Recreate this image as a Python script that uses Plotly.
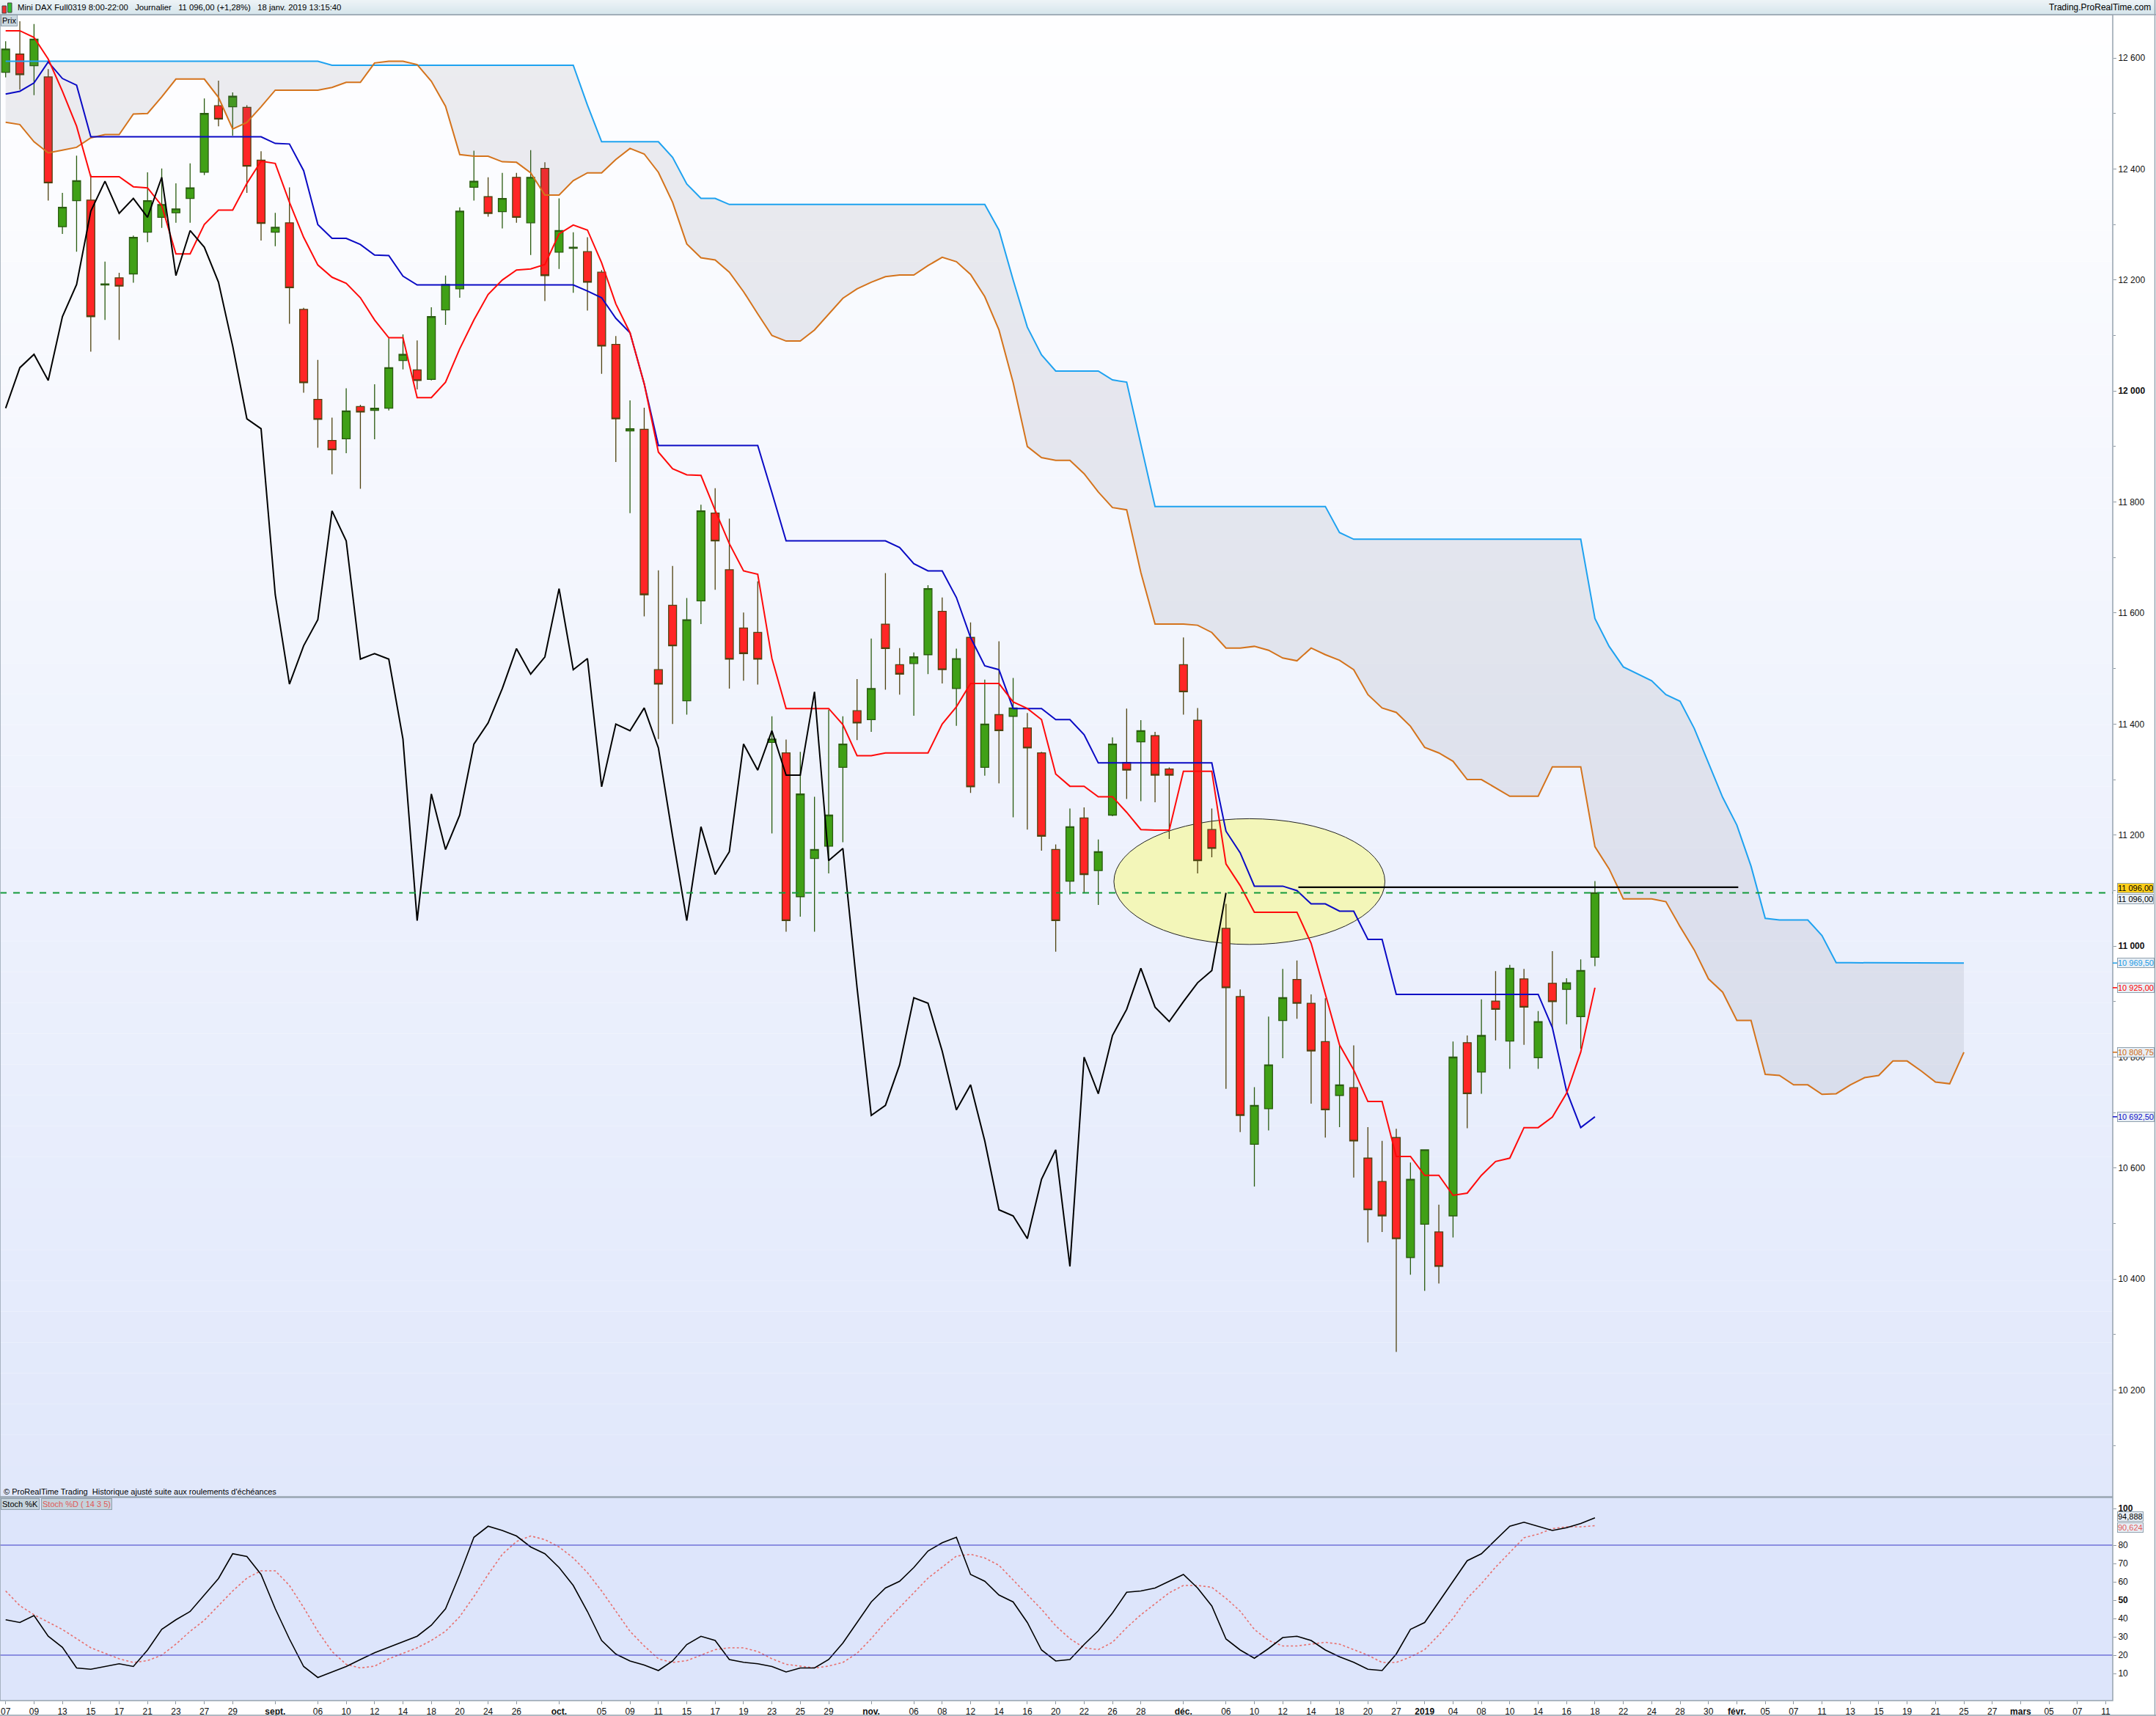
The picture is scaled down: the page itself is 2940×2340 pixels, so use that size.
import plotly.graph_objects as go

# ---------------- DATA ----------------
OPEN = [12574, 12607, 12586, 12566, 12296, 12343, 12344, 12191, 12204, 12211,
        12286, 12313, 12321, 12347, 12394, 12514, 12512, 12511, 12416, 12286,
        12303, 12147, 11985, 11911, 11914, 11972, 11965, 11969, 12055, 12038,
        12021, 12146, 12184, 12367, 12350, 12323, 12385, 12303, 12401, 12250,
        12257, 12251, 12214, 12084, 11928, 11931, 11498, 11614, 11442, 11622,
        11780, 11678, 11573, 11565, 11367, 11348, 11089, 11158, 11180, 11322,
        11424, 11408, 11580, 11507, 11509, 11525, 11603, 11464, 11556, 11322,
        11417, 11414, 11393, 11348, 11174, 11117, 11231, 11136, 11236, 11331,
        11368, 11379, 11319, 11507, 11407, 11210, 11032, 10909, 10643, 10707,
        10866, 10940, 10897, 10828, 10731, 10745, 10618, 10576, 10655, 10439,
        10499, 10485, 10514, 10826, 10773, 10901, 10829, 10941, 10799, 10933,
        10922, 10873, 10980]
HIGH = [12630, 12666, 12661, 12580, 12357, 12424, 12390, 12233, 12213, 12280,
        12394, 12401, 12374, 12410, 12527, 12559, 12538, 12515, 12432, 12321,
        12367, 12150, 12056, 11952, 12005, 11975, 12012, 12095, 12102, 12091,
        12151, 12208, 12331, 12433, 12385, 12393, 12393, 12434, 12412, 12347,
        12286, 12277, 12218, 12099, 11983, 11970, 11677, 11685, 11627, 11795,
        11825, 11770, 11601, 11657, 11414, 11372, 11350, 11269, 11426, 11414,
        11481, 11554, 11672, 11537, 11529, 11650, 11628, 11536, 11583, 11480,
        11549, 11483, 11420, 11350, 11183, 11248, 11250, 11192, 11376, 11428,
        11407, 11386, 11322, 11556, 11429, 11248, 11076, 10922, 10746, 10873,
        10959, 10974, 10913, 10906, 10822, 10821, 10674, 10649, 10671, 10610,
        10634, 10534, 10828, 10839, 10904, 10955, 10966, 10959, 10883, 10991,
        10942, 10976, 11117]
LOW = [12565, 12543, 12533, 12343, 12283, 12251, 12071, 12128, 12092, 12195,
       12268, 12294, 12303, 12303, 12389, 12477, 12460, 12357, 12271, 12261,
       12121, 11997, 11898, 11850, 11888, 11824, 11913, 11965, 12039, 12003,
       12019, 12119, 12168, 12343, 12314, 12293, 12303, 12245, 12162, 12220,
       12177, 12145, 12031, 11872, 11780, 11594, 11373, 11400, 11417, 11580,
       11642, 11464, 11478, 11471, 11203, 11026, 11053, 11026, 11131, 11187,
       11371, 11386, 11462, 11453, 11415, 11490, 11473, 11397, 11276, 11307,
       11293, 11232, 11210, 11172, 10990, 11093, 11096, 11074, 11234, 11265,
       11261, 11259, 11193, 11417, 11131, 11160, 10743, 10665, 10567, 10668,
       10798, 10869, 10716, 10655, 10674, 10583, 10466, 10485, 10269, 10408,
       10379, 10392, 10475, 10672, 10734, 10830, 10779, 10822, 10779, 10853,
       10859, 10815, 10964]
CLOSE = [12616, 12570, 12634, 12375, 12331, 12379, 12134, 12193, 12189, 12277,
         12343, 12336, 12328, 12366, 12500, 12490, 12531, 12405, 12302, 12295,
         12186, 12015, 11949, 11894, 11964, 11962, 11969, 12042, 12066, 12019,
         12134, 12192, 12324, 12378, 12320, 12347, 12313, 12385, 12208, 12289,
         12259, 12196, 12081, 11950, 11932, 11633, 11472, 11541, 11588, 11784,
         11730, 11517, 11527, 11517, 11373, 11046, 11274, 11174, 11236, 11364,
         11402, 11464, 11536, 11490, 11521, 11644, 11498, 11518, 11287, 11400,
         11388, 11429, 11357, 11198, 11046, 11215, 11129, 11170, 11364, 11317,
         11388, 11308, 11308, 11458, 11154, 11176, 10925, 10695, 10713, 10786,
         10907, 10897, 10811, 10705, 10750, 10649, 10525, 10514, 10473, 10580,
         10633, 10423, 10800, 10734, 10839, 10886, 10960, 10890, 10864, 10900,
         10934, 10956, 11096]

TENKAN = [12649, 12649, 12637, 12598, 12540, 12477, 12386, 12386, 12386, 12368,
          12366, 12334, 12247, 12247, 12300, 12326, 12326, 12374, 12414, 12410,
          12340, 12277, 12227, 12205, 12194, 12168, 12128, 12096, 12096, 11988,
          11988, 12016, 12076, 12128, 12174, 12200, 12218, 12220, 12228, 12283,
          12299, 12290, 12231, 12157, 12105, 12013, 11890, 11860, 11849, 11848,
          11785, 11725, 11676, 11670, 11518, 11428, 11428, 11428, 11428, 11399,
          11343, 11343, 11348, 11348, 11348, 11348, 11400, 11431, 11473, 11473,
          11473, 11440, 11428, 11408, 11310, 11288, 11288, 11269, 11269, 11241,
          11210, 11209, 11209, 11315, 11315, 11315, 11148, 11109, 11061, 11061,
          11061, 11061, 11005, 10913, 10822, 10777, 10720, 10720, 10621, 10621,
          10587, 10587, 10551, 10555, 10587, 10612, 10618, 10673, 10673, 10692,
          10735, 10809, 10925]
KIJUN = [12535, 12540, 12555, 12593, 12563, 12551, 12458, 12458, 12458, 12458,
         12458, 12458, 12458, 12458, 12458, 12458, 12458, 12458, 12458, 12446,
         12445, 12397, 12300, 12275, 12275, 12264, 12245, 12244, 12207, 12191,
         12191, 12191, 12191, 12191, 12191, 12191, 12191, 12191, 12191, 12191,
         12191, 12180, 12168, 12131, 12105, 12013, 11902, 11902, 11902, 11902,
         11902, 11902, 11902, 11902, 11817, 11730, 11730, 11730, 11730, 11730,
         11730, 11730, 11730, 11718, 11689, 11676, 11676, 11628, 11556, 11505,
         11498, 11428, 11428, 11428, 11408, 11408, 11381, 11330, 11330, 11330,
         11330, 11330, 11330, 11330, 11330, 11330, 11207, 11168, 11108, 11108,
         11108, 11100, 11076, 11076, 11063, 11063, 11012, 11012, 10913, 10913,
         10913, 10913, 10913, 10913, 10913, 10913, 10913, 10913, 10913, 10853,
         10739, 10673, 10692.5]
SENKOU_A = [12484, 12480, 12449, 12429, 12434, 12439, 12456, 12462, 12462, 12499,
            12500, 12530, 12562, 12562, 12562, 12529, 12472, 12484, 12512, 12542,
            12542, 12542, 12542, 12547, 12556, 12556, 12591, 12594, 12594, 12588,
            12558, 12513, 12426, 12423, 12423, 12413, 12412, 12393, 12353, 12353,
            12379, 12393, 12393, 12417, 12437, 12427, 12394, 12340, 12265, 12240,
            12236, 12214, 12179, 12139, 12100, 12090, 12090, 12110, 12139, 12167,
            12184, 12196, 12206, 12209, 12209, 12226, 12241, 12233, 12210, 12170,
            12110, 12015, 11900, 11880, 11875, 11875, 11851, 11818, 11790, 11786,
            11673, 11580, 11580, 11580, 11578, 11565, 11537, 11537, 11540, 11533,
            11519, 11514, 11537, 11525, 11515, 11498, 11453, 11429, 11421, 11396,
            11358, 11348, 11333, 11300, 11300, 11285, 11270, 11270, 11270, 11323,
            11323, 11323, 11179, 11139, 11085, 11085, 11085, 11080, 11035, 10993,
            10941, 10917, 10866, 10866, 10769, 10767, 10750, 10750, 10733, 10734,
            10750, 10763, 10767, 10793, 10793, 10775, 10755, 10752, 10808.75]
SENKOU_B = [12594, 12594, 12594, 12594, 12594, 12594, 12594, 12594, 12594, 12594,
            12594, 12594, 12594, 12594, 12594, 12594, 12594, 12594, 12594, 12594,
            12594, 12594, 12594, 12587, 12587, 12587, 12587, 12587, 12587, 12587,
            12587, 12587, 12587, 12587, 12587, 12587, 12587, 12587, 12587, 12587,
            12587, 12515, 12449, 12449, 12449, 12449, 12449, 12421, 12373, 12347,
            12347, 12336, 12336, 12336, 12336, 12336, 12336, 12336, 12336, 12336,
            12336, 12336, 12336, 12336, 12336, 12336, 12336, 12336, 12336, 12336,
            12290, 12200, 12115, 12065, 12036, 12036, 12036, 12036, 12020, 12016,
            11904, 11792, 11792, 11792, 11792, 11792, 11792, 11792, 11792, 11792,
            11792, 11792, 11792, 11792, 11745, 11733, 11733, 11733, 11733, 11733,
            11733, 11733, 11733, 11733, 11733, 11733, 11733, 11733, 11733, 11733,
            11733, 11733, 11590, 11540, 11503, 11490, 11478, 11453, 11441, 11392,
            11330, 11268, 11218, 11144, 11050, 11047, 11047, 11047, 11019, 10970,
            10970, 10970, 10970, 10970, 10970, 10970, 10970, 10970, 10969.5]

STOCH_K = [39.3, 37.8, 41.6, 30.3, 24.3, 13.0, 12.3, 13.8, 15.3, 13.8,
           22.8, 34.1, 39.3, 43.8, 52.8, 61.8, 75.3, 73.8, 64.0, 45.3,
           28.8, 13.8, 7.8, 10.8, 13.8, 17.6, 21.3, 24.3, 27.3, 30.3,
           36.3, 45.3, 64.0, 84.3, 90.3, 88.0, 85.0, 79.0, 75.3, 67.8,
           58.0, 43.8, 28.0, 20.6, 16.8, 14.6, 11.6, 16.8, 25.8, 30.3,
           28.0, 17.6, 16.1, 15.3, 13.8, 10.8, 13.0, 13.0, 17.6, 26.6,
           37.8, 49.0, 56.6, 60.3, 67.8, 76.8, 81.3, 84.3, 64.0, 60.3,
           52.8, 49.0, 37.8, 22.8, 16.8, 17.6, 25.8, 33.3, 43.0, 54.3,
           55.0, 56.6, 60.3, 64.0, 56.6, 46.8, 28.8, 22.8, 18.3, 23.6,
           29.6, 30.3, 28.0, 22.8, 19.1, 16.1, 12.3, 11.6, 20.6, 34.1,
           37.8, 49.0, 60.3, 71.5, 75.3, 82.8, 90.3, 92.5, 90.3, 88.0,
           89.5, 91.8, 94.888]
STOCH_D = [55, 47, 42, 38, 34, 29, 24, 21, 18, 16,
           17, 20, 26, 33, 39, 47, 55, 62, 66, 66,
           58, 46, 33, 22, 15, 13, 14, 18, 21, 24,
           28, 33, 41, 52, 64, 75, 82, 85, 83, 79,
           73, 65, 55, 44, 33, 25, 18, 16, 17, 20,
           23, 24, 24, 22, 18, 15, 14, 13, 14, 16,
           21, 29, 38, 46, 54, 62, 68, 74, 75, 73,
           69, 61, 53, 45, 36, 29, 24, 23, 27, 35,
           42, 48, 54, 58, 58, 57, 51, 44, 34, 28,
           25, 25, 26, 27, 26, 23, 20, 16, 16, 19,
           23, 31, 40, 51, 59, 68, 76, 84, 86, 89,
           90, 90, 90.624]

TICK_POS = [0, 2, 4, 6, 8, 10, 12, 14, 16, 19, 22, 24, 26, 28, 30, 32, 34, 36, 39,
            42, 44, 46, 48, 50, 52, 54, 56, 58, 61, 64, 66, 68, 70, 72, 74, 76, 78,
            80, 83, 86, 88, 90, 92, 94, 96, 98, 100, 102, 104, 106, 108, 110, 112,
            114, 116, 118, 120, 122, 124, 126, 128, 130, 132, 134, 136, 138, 140,
            142, 144, 146, 148]
TICK_TEXT = ["07", "09", "13", "15", "17", "21", "23", "27", "29", "<b>sept.</b>",
             "06", "10", "12", "14", "18", "20", "24", "26", "<b>oct.</b>",
             "05", "09", "11", "15", "17", "19", "23", "25", "29", "<b>nov.</b>",
             "06", "08", "12", "14", "16", "20", "22", "26", "28", "<b>déc.</b>",
             "06", "10", "12", "14", "18", "20", "27", "<b>2019</b>", "04", "08",
             "10", "14", "16", "18", "22", "24", "28", "30", "<b>févr.</b>", "05",
             "07", "11", "13", "15", "19", "21", "25", "27", "<b>mars</b>", "05",
             "07", "11"]
PRICE_TICKS = [10200, 10400, 10600, 10800, 11000, 11200, 11400, 11600, 11800,
               12000, 12200, 12400, 12600]
PRICE_LABELS = ["10 200", "10 400", "10 600", "10 800", "<b>11 000</b>", "11 200",
                "11 400", "11 600", "11 800", "<b>12 000</b>", "12 200", "12 400",
                "12 600"]
STOCH_TICKS = [10, 20, 30, 40, 50, 60, 70, 80, 100]
STOCH_LABELS = ["10", "20", "30", "40", "<b>50</b>", "60", "70", "80", "<b>100</b>"]
STOCH_LEVELS = [80, 20]

LAST_PRICE = 11096.0
DRAWN_LINE = [91.1, 122.1, 11106]          # x0, x1, price
ELLIPSE = [78.1, 97.2, 11003, 11229.5]     # x0, x1, y0, y1

# price tags on the right axis: (position, text, text colour, background)
PRICE_TAGS = [(11105, "11 096,00", "#000000", "#ffcf1a"),
              (11085, "11 096,00", "#000000", "#e9eff5"),
              (10969.5, "10 969,50", "#1a9be6", "#e9eff5"),
              (10925.0, "10 925,00", "#ff0000", "#e9eff5"),
              (10808.75, "10 808,75", "#cf6a10", "#e9eff5"),
              (10692.5, "10 692,50", "#1010c8", "#e9eff5")]
STOCH_TAGS = [(95.8, "94,888", "#000000"), (89.8, "90,624", "#e05a5a")]

# ---------------- LAYOUT GEOMETRY ----------------
W, H = 2940, 2340
ML, MR, MT, MB = 0, 59, 20, 21
PW = W - ML - MR
PH = H - MT - MB
MAIN_BOTTOM_PX = 2041
STOCH_TOP_PX = 2042


def py(p):
    """pixel y from top -> paper y"""
    return (H - MB - p) / PH


def px(p):
    return (p - ML) / PW


MAIN_DOM = [py(MAIN_BOTTOM_PX), 1.0]
STOCH_DOM = [0.0, py(STOCH_TOP_PX)]

FONT = "Liberation Sans, Arial, sans-serif"
NARROW = "Liberation Sans Narrow, Arial Narrow, Liberation Sans, sans-serif"

fig = go.Figure()

n = len(CLOSE)
xi = list(range(n))
xs = list(range(len(SENKOU_B)))

fig.add_trace(go.Scatter(x=xs, y=SENKOU_B, mode="lines",
                         line=dict(color="#1ea2f0", width=2),
                         xaxis="x", yaxis="y", hoverinfo="skip"))
fig.add_trace(go.Scatter(x=xs, y=SENKOU_A, mode="lines",
                         line=dict(color="#d4731c", width=2),
                         fill="tonexty", fillcolor="rgba(105,110,125,0.12)",
                         xaxis="x", yaxis="y", hoverinfo="skip"))
fig.add_trace(go.Candlestick(
    x=xi, open=OPEN, high=HIGH, low=LOW, close=CLOSE,
    increasing=dict(fillcolor="#40a016", line=dict(color="#2a5c10", width=1.3)),
    decreasing=dict(fillcolor="#ff2626", line=dict(color="#4f4210", width=1.3)),
    whiskerwidth=0, xaxis="x", yaxis="y", hoverinfo="skip"))
fig.add_trace(go.Scatter(x=xi, y=KIJUN, mode="lines",
                         line=dict(color="#0a0ac4", width=2),
                         xaxis="x", yaxis="y", hoverinfo="skip"))
fig.add_trace(go.Scatter(x=xi, y=TENKAN, mode="lines",
                         line=dict(color="#ff0a0a", width=2),
                         xaxis="x", yaxis="y", hoverinfo="skip"))
fig.add_trace(go.Scatter(x=list(range(n - 26)), y=CLOSE[26:], mode="lines",
                         line=dict(color="#000000", width=2),
                         xaxis="x", yaxis="y", hoverinfo="skip"))

fig.add_trace(go.Scatter(x=xi, y=STOCH_D, mode="lines",
                         line=dict(color="#e8706e", width=1.6, dash="dot"),
                         xaxis="x", yaxis="y2", hoverinfo="skip"))
fig.add_trace(go.Scatter(x=xi, y=STOCH_K, mode="lines",
                         line=dict(color="#000000", width=1.6),
                         xaxis="x", yaxis="y2", hoverinfo="skip"))

shapes = []
# main panel gradient background
NB = 48
d0, d1 = MAIN_DOM
for k in range(NB):
    t = k / (NB - 1)
    r = int(round(254 - 29 * t))
    g = int(round(254 - 22 * t))
    b = int(round(255 - 4 * t))
    y1 = d1 - (d1 - d0) * k / NB
    y0 = d1 - (d1 - d0) * (k + 1) / NB
    shapes.append(dict(type="rect", xref="paper", yref="paper", x0=0, x1=1,
                       y0=y0, y1=y1, fillcolor=f"rgb({r},{g},{b})",
                       line=dict(width=0), layer="below"))
# stoch background
shapes.append(dict(type="rect", xref="paper", yref="paper", x0=0, x1=1,
                   y0=STOCH_DOM[0], y1=STOCH_DOM[1], fillcolor="rgb(221,229,251)",
                   line=dict(width=0), layer="below"))
# ellipse
shapes.append(dict(type="circle", xref="x", yref="y", x0=ELLIPSE[0], x1=ELLIPSE[1],
                   y0=ELLIPSE[2], y1=ELLIPSE[3], fillcolor="#f3f6b9",
                   line=dict(color="#222222", width=1), layer="below"))
# drawn horizontal line
shapes.append(dict(type="line", xref="x", yref="y", x0=DRAWN_LINE[0], x1=DRAWN_LINE[1],
                   y0=DRAWN_LINE[2], y1=DRAWN_LINE[2],
                   line=dict(color="#000000", width=2.2)))
# last price dashed line
shapes.append(dict(type="line", xref="paper", yref="y", x0=0, x1=1,
                   y0=LAST_PRICE, y1=LAST_PRICE,
                   line=dict(color="#139a3a", width=2, dash="dash")))
# stochastic levels
for lv in STOCH_LEVELS:
    shapes.append(dict(type="line", xref="paper", yref="y2", x0=0, x1=1, y0=lv, y1=lv,
                       line=dict(color="#3a3ac8", width=1.2)))
# panel borders
shapes.append(dict(type="rect", xref="paper", yref="paper", x0=0, x1=1,
                   y0=MAIN_DOM[0], y1=MAIN_DOM[1], line=dict(color="#95a2ae", width=1.5)))
shapes.append(dict(type="rect", xref="paper", yref="paper", x0=0, x1=1,
                   y0=STOCH_DOM[0], y1=STOCH_DOM[1], line=dict(color="#95a2ae", width=1.5)))
# header bar
top = 1 + MT / PH
for k in range(10):
    t = k / 9
    r = int(round(236 - 22 * t))
    g = int(round(243 - 14 * t))
    b = int(round(246 - 10 * t))
    y1 = top - (top - 1) * k / 10
    y0 = top - (top - 1) * (k + 1) / 10
    shapes.append(dict(type="rect", xref="paper", yref="paper", x0=0, x1=px(W),
                       y0=y0, y1=y1, fillcolor=f"rgb({r},{g},{b})", line=dict(width=0)))
shapes.append(dict(type="line", xref="paper", yref="paper", x0=0, x1=px(W), y0=1, y1=1,
                   line=dict(color="#95a2ae", width=1.5)))
# outer frame right and bottom
shapes.append(dict(type="line", xref="paper", yref="paper", x0=px(W - 1.5), x1=px(W - 1.5),
                   y0=py(H), y1=top, line=dict(color="#95a2ae", width=1.5)))
shapes.append(dict(type="line", xref="paper", yref="paper", x0=0, x1=px(W),
                   y0=py(H - 1), y1=py(H - 1), line=dict(color="#95a2ae", width=1.5)))
# header candle icon
shapes.append(dict(type="rect", xref="paper", yref="paper", x0=px(3), x1=px(8.5),
                   y0=py(18), y1=py(8), fillcolor="#f03030", line=dict(color="#444", width=1)))
shapes.append(dict(type="rect", xref="paper", yref="paper", x0=px(10.5), x1=px(16),
                   y0=py(17), y1=py(4), fillcolor="#30c030", line=dict(color="#444", width=1)))
# coloured ticks for price tags
for v, _, col, _bg in PRICE_TAGS[2:]:
    shapes.append(dict(type="line", xref="paper", yref="y", x0=1, x1=px(PW + 6),
                       y0=v, y1=v, line=dict(color=col, width=1.5)))

annotations = []
for v, txt, col, bg in PRICE_TAGS:
    annotations.append(dict(xref="paper", yref="y", x=px(PW + 6), y=v, xanchor="left",
                            yanchor="middle", text=txt, showarrow=False,
                            font=dict(family=FONT, size=11, color=col), bgcolor=bg,
                            bordercolor="#8fa0ae", borderwidth=1, borderpad=0))
for v, txt, col in STOCH_TAGS:
    annotations.append(dict(xref="paper", yref="y2", x=px(PW + 6), y=v, xanchor="left",
                            yanchor="middle", text=txt, showarrow=False,
                            font=dict(family=FONT, size=11, color=col), bgcolor="#e9eff5",
                            bordercolor="#8fa0ae", borderwidth=1, borderpad=0))
# header
annotations.append(dict(xref="paper", yref="paper", x=px(22), y=py(10), xanchor="left",
                        yanchor="middle", showarrow=False,
                        text="Mini DAX Full0319 8:00-22:00&nbsp;&nbsp;&nbsp;Journalier&nbsp;&nbsp;&nbsp;11 096,00 (+1,28%)&nbsp;&nbsp;&nbsp;18 janv. 2019 13:15:40",
                        font=dict(family=NARROW, size=11.3, color="#000000")))
annotations.append(dict(xref="paper", yref="paper", x=px(W - 5), y=py(10), xanchor="right",
                        yanchor="middle", showarrow=False, text="Trading.ProRealTime.com",
                        font=dict(family=FONT, size=12, color="#000000")))
annotations.append(dict(xref="paper", yref="paper", x=px(1), y=py(28), xanchor="left",
                        yanchor="middle", showarrow=False, text="Prix",
                        font=dict(family=NARROW, size=11, color="#000000"),
                        bgcolor="#cbd8e0", bordercolor="#8fa0ae", borderwidth=1, borderpad=1))
annotations.append(dict(xref="paper", yref="paper", x=px(3), y=py(2034), xanchor="left",
                        yanchor="middle", showarrow=False,
                        text="© ProRealTime Trading&nbsp;&nbsp;Historique ajusté suite aux roulements d'échéances",
                        font=dict(family=FONT, size=11, color="#000000")))
annotations.append(dict(xref="paper", yref="paper", x=px(1), y=py(2050.5), xanchor="left",
                        yanchor="middle", showarrow=False, text="Stoch %K",
                        font=dict(family=FONT, size=11, color="#000000"),
                        bgcolor="#c5d3dc", bordercolor="#8fa0ae", borderwidth=1, borderpad=1))
annotations.append(dict(xref="paper", yref="paper", x=px(56), y=py(2050.5), xanchor="left",
                        yanchor="middle", showarrow=False, text="Stoch %D ( 14 3 5)",
                        font=dict(family=FONT, size=11, color="#e05a5a"),
                        bgcolor="#c5d3dc", bordercolor="#8fa0ae", borderwidth=1, borderpad=1))

axis_common = dict(showgrid=False, zeroline=False, ticks="outside", ticklen=4,
                   tickcolor="#8c96a0", showline=False)

fig.update_layout(
    width=W, height=H, margin=dict(l=ML, r=MR, t=MT, b=MB),
    paper_bgcolor="white", plot_bgcolor="rgba(0,0,0,0)", showlegend=False,
    boxgap=0.2, hovermode=False,
    xaxis=dict(domain=[0, 1], anchor="y2", range=[-0.398, 148.49], tickmode="array",
               tickvals=TICK_POS, ticktext=TICK_TEXT,
               tickfont=dict(family=NARROW, size=12, color="#111111"),
               rangeslider=dict(visible=False), **axis_common),
    yaxis=dict(domain=MAIN_DOM, anchor="x", side="right", range=[10008, 12678],
               tickmode="array", tickvals=PRICE_TICKS, ticktext=PRICE_LABELS,
               tickfont=dict(family=FONT, size=12, color="#111111"),
               minor=dict(tickmode="linear", tick0=10000, dtick=100, ticks="outside",
                          ticklen=3, tickcolor="#8c96a0", showgrid=False),
               **axis_common),
    yaxis2=dict(domain=STOCH_DOM, anchor="x", side="right", range=[-4.8, 106],
                tickmode="array", tickvals=STOCH_TICKS, ticktext=STOCH_LABELS,
                tickfont=dict(family=FONT, size=12, color="#111111"),
                **axis_common),
    shapes=shapes, annotations=annotations,
)

fig.write_html("out.html", config={"displayModeBar": False},
               post_script="document.body.style.margin='0';document.body.style.overflow='hidden';")
